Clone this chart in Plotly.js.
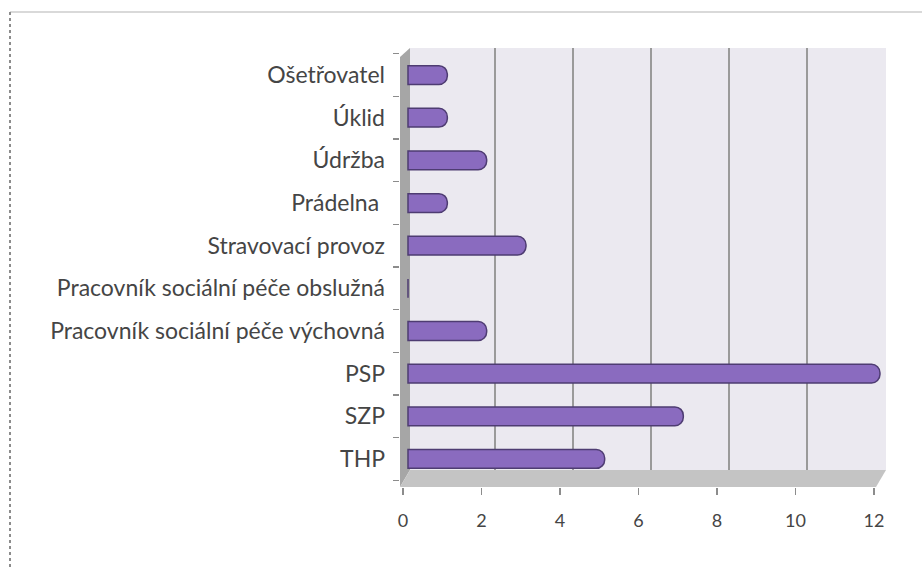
<!DOCTYPE html>
<html>
<head>
<meta charset="utf-8">
<script src="https://cdn.plot.ly/plotly-3.0.1.min.js"></script>
<style>html,body{margin:0;padding:0;background:#fff;}#chart{width:922px;height:567px;}</style>
</head>
<body>
<div id="chart"></div>
<script>
// categories listed bottom to top
const categories = ["THP", "SZP", "PSP", "Pracovník sociální péče výchovná", "Pracovník sociální péče obslužná", "Stravovací provoz", "Prádelna ", "Údržba", "Úklid", "Ošetřovatel"];
const values = [5, 7, 12, 2, 0, 3, 1, 2, 1, 1];
const xTicks = [0, 2, 4, 6, 8, 10, 12];
const gridTicks = [2, 4, 6, 8, 10, 12];

// pixel helpers for decorative 3D frame (paper coords)
const L = 400, R = 885, T = 48, B = 487;
const px = x => (x - L) / (R - L);
const py = y => (B - y) / (B - T);
const W = R - L;

const shapes = [
  // back wall
  {type: 'rect', xref: 'paper', yref: 'paper', x0: px(410), x1: px(886), y0: py(470), y1: py(48),
   fillcolor: '#ebe9f0', line: {width: 0}, layer: 'below'},
  // left wall
  {type: 'path', xref: 'paper', yref: 'paper', layer: 'below',
   path: `M ${px(410)} ${py(48)} L ${px(410)} ${py(470)} L ${px(400)} ${py(487)} L ${px(400)} ${py(57)} Z`,
   fillcolor: '#a6a6a6', line: {width: 0}},
  // floor
  {type: 'path', xref: 'paper', yref: 'paper', layer: 'below',
   path: `M ${px(410)} ${py(470)} L ${px(886)} ${py(470)} L ${px(876)} ${py(487)} L ${px(400)} ${py(487)} Z`,
   fillcolor: '#c4c4c4', line: {width: 0}},
  // outer frame: top line
  {type: 'line', xref: 'paper', yref: 'paper', x0: px(10), x1: px(922), y0: py(12), y1: py(12),
   line: {color: '#d9d9d9', width: 2}},
  // outer frame: left dashed line
  {type: 'line', xref: 'paper', yref: 'paper', x0: px(10), x1: px(10), y0: py(12), y1: py(567),
   line: {color: '#8c8c8c', width: 2, dash: 'dot'}}
];

// back-wall grid subplot (drawn first, under the bars)
const gridTrace = {type: 'scatter', x: [], y: [], xaxis: 'x', yaxis: 'y', hoverinfo: 'skip', showlegend: false};
// data subplot
const trace = {
  type: 'bar',
  orientation: 'h',
  y: categories,
  x: values,
  xaxis: 'x2', yaxis: 'y2',
  marker: {color: '#8a6bbf', line: {color: '#4e3c72', width: 1.5}, cornerradius: '45%'},
  hoverinfo: 'x+y'
};
// front tick axis
const tickTrace = {type: 'scatter', x: [], y: [], xaxis: 'x3', yaxis: 'y2', hoverinfo: 'skip', showlegend: false};

const layout = {
  width: 922, height: 567,
  margin: {l: L, r: 922 - R, t: T, b: 567 - B, pad: 0},
  paper_bgcolor: '#ffffff',
  plot_bgcolor: 'rgba(0,0,0,0)',
  font: {family: 'Lato, "Open Sans", sans-serif', size: 16, color: '#454545'},
  showlegend: false,
  bargap: 0.56,
  shapes: shapes,
  // back wall grid
  xaxis: {
    domain: [0, 1], anchor: 'y',
    range: [-17 / 39, -17 / 39 + W / 39],
    tickvals: gridTicks,
    showgrid: true, gridcolor: '#9a9a9a', gridwidth: 2,
    showticklabels: false, ticks: '', zeroline: false, showline: false
  },
  yaxis: {
    domain: [py(470), 1], anchor: 'x',
    range: [0, 1], showgrid: false, showticklabels: false, ticks: '', zeroline: false, showline: false
  },
  // data axis (value 0 at the left wall)
  xaxis2: {
    domain: [0, 1], anchor: 'y2',
    range: [-8 / 39.33, -8 / 39.33 + W / 39.33],
    showgrid: false, zeroline: false, showline: false,
    showticklabels: false, ticks: ''
  },
  yaxis2: {
    domain: [0, 1], anchor: 'x2',
    type: 'category',
    categoryorder: 'array', categoryarray: categories,
    range: [-0.657, 9.634],
    showgrid: false, zeroline: false, showline: false,
    ticks: 'outside', tickson: 'boundaries', ticklen: 6, tickcolor: '#8c8c8c', tickwidth: 1.5,
    ticklabelstandoff: 14,
    tickfont: {size: 23, color: '#454545'}
  },
  // front axis: tick marks and labels
  xaxis3: {
    overlaying: 'x2', anchor: 'y2', side: 'bottom',
    range: [-3 / 39.25, -3 / 39.25 + W / 39.25],
    tickvals: xTicks,
    ticktext: xTicks.map(String),
    showgrid: false, zeroline: false, showline: false,
    ticks: 'outside', ticklen: 7, tickcolor: '#8c8c8c', tickwidth: 1.5,
    ticklabelstandoff: 10,
    tickfont: {size: 18, color: '#454545'}
  }
};

Plotly.newPlot('chart', [gridTrace, trace, tickTrace], layout, {displayModeBar: false, staticPlot: true});
</script>
</body>
</html>
